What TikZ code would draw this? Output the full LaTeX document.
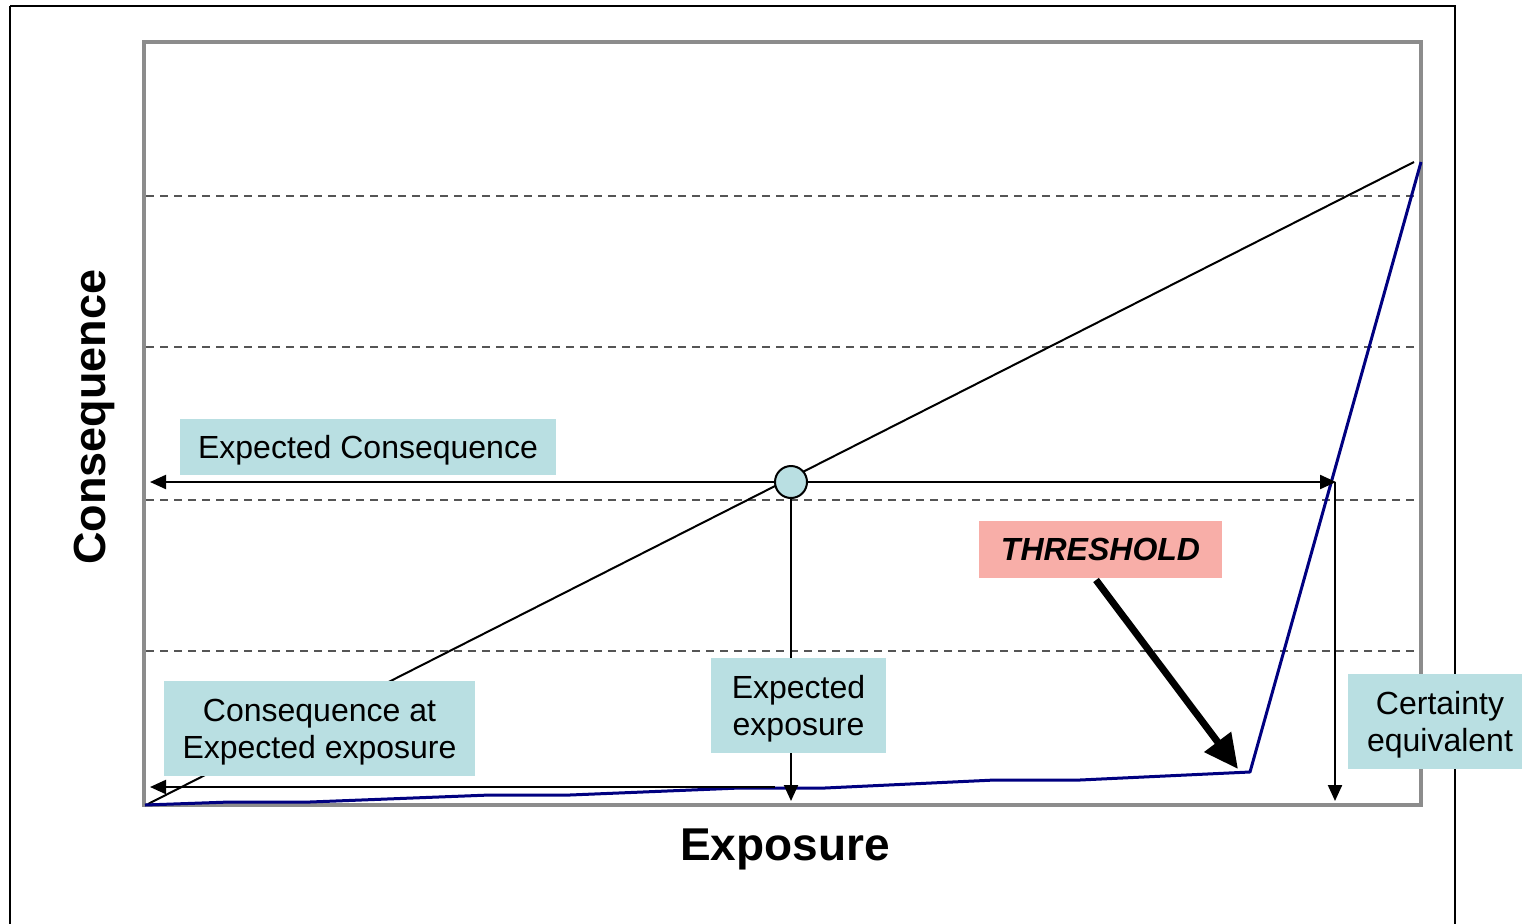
\documentclass[tikz,border=0pt]{standalone}
\usepackage{fontspec}
\setmainfont{Liberation Sans}
\usetikzlibrary{arrows.meta}
\definecolor{boxblue}{HTML}{B9DFE2}
\definecolor{boxred}{HTML}{F8AEA8}
\definecolor{curveblue}{HTML}{000080}
\definecolor{framegray}{HTML}{8C8C8C}
\definecolor{dashgray}{HTML}{555555}
\tikzset{
  lbl/.style={fill=boxblue, inner sep=0pt, align=center, text depth=0pt, font=\fontsize{32}{37}\selectfont},
  grid line/.style={draw=dashgray, line width=1.2pt, dash pattern=on 8pt off 6pt},
  conn/.style={draw=black, line width=2.2pt},
  arr/.style={conn, -{Triangle[length=16pt,width=14pt]}},
}
\begin{document}
\begin{tikzpicture}[x=1pt,y=-1pt]
\useasboundingbox (0,0) rectangle (1522,923);
% outer frame
\draw[line width=1.5pt] (10,6) -- (1455,6) -- (1455,940) (10,6) -- (10,940);
% dashed grid
\foreach \yy in {196,347,500,651} \draw[grid line] (146,\yy) -- (1414,\yy);
% plot frame
\draw[framegray, line width=3.2pt] (144,42) rectangle (1421,805);
% diagonal linear line
\coordinate (d0) at (148,804);
\coordinate (d1) at (1414,162);
\draw[line width=2pt] (d0) -- (d1);
% blue curve
\draw[curveblue, line width=3pt, line join=round] (145,805) -- (230,802) -- (310,802) -- (490,795) -- (570,795) -- (740,788) -- (825,788) -- (995,780) -- (1080,780) -- (1250,772) -- (1421,162);
% coordinates for connectors
\coordinate (ecL) at (150,482);
\coordinate (ceR) at (1336,482);
\coordinate (ceT) at (1335,482);
\coordinate (ceB) at (1335,801);
\coordinate (eeB) at (791,801);
\coordinate (ceaR) at (775,787);
\coordinate (ceaL) at (150,787);
\coordinate (thrTip) at (1238,769);
\node[circle, minimum size=32pt, inner sep=0pt] (ec) at (791,482) {};
% arrows
\draw[arr] (ec.center) -- (ecL);
\draw[arr] (ec.center) -- (ceR);
\draw[arr] (ec.center) -- (eeB);
\draw[arr] (ceT) -- (ceB);
\draw[arr] (ceaR) -- (ceaL);
% circle on top
\node[circle, draw=black, line width=2pt, fill=boxblue, minimum size=32pt, inner sep=0pt] at (ec.center) {};
% labels
\node[lbl, minimum width=376pt, minimum height=56pt] (lec) at (368,447) {Expected Consequence};
\node[lbl, minimum width=311pt, minimum height=95pt] (lcae) at (319.5,728.5) {Consequence at\\Expected exposure};
\node[lbl, minimum width=175pt, minimum height=95pt] (lee) at (798.5,705.5) {Expected\\exposure};
\node[lbl, minimum width=184pt, minimum height=95pt] (lce) at (1440,721.5) {Certainty\\equivalent};
\node[fill=boxred, inner sep=0pt, minimum width=243pt, minimum height=57pt, text depth=0pt, font=\fontsize{32}{37}\selectfont\bfseries\itshape] (thr) at (1100.5,549.5) {THRESHOLD};
\draw[line width=7pt, -{Triangle[length=34pt,width=32pt]}] (1096,580) -- (thrTip);
% axis titles
\node[font=\fontsize{46}{50}\selectfont\bfseries] (xt) at (785,849) {Exposure};
\node[font=\fontsize{45}{50}\selectfont\bfseries, rotate=90] (yt) at (94,417) {Consequence};
\end{tikzpicture}
\end{document}
